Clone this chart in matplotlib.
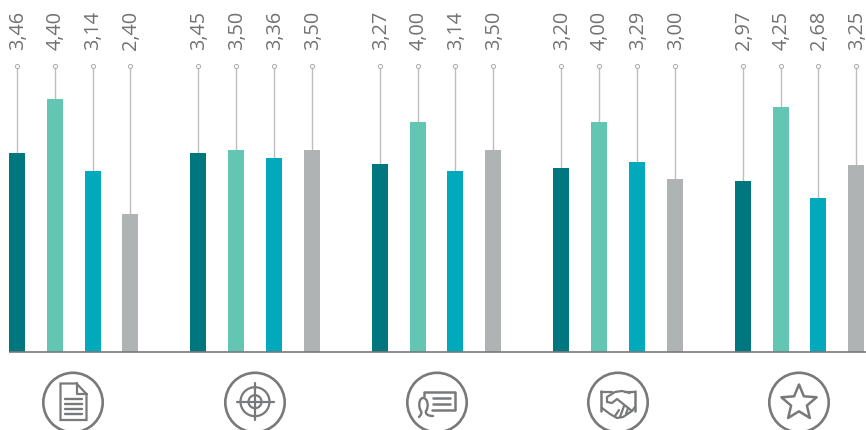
import matplotlib
matplotlib.use("Agg")
import numpy as np
import matplotlib.pyplot as plt
from matplotlib.patches import Circle, Polygon, PathPatch
from matplotlib.path import Path

plt.rcParams['font.family'] = ['Open Sans', 'DejaVu Sans']

# one list per series, one value per icon group
group1 = [3.46, 3.45, 3.27, 3.20, 2.97]
group2 = [4.40, 3.50, 4.00, 4.00, 4.25]
group3 = [3.14, 3.36, 3.14, 3.29, 2.68]
group4 = [2.40, 3.50, 3.50, 3.00, 3.25]
series = [group1, group2, group3, group4]
colors = ['#00777f', '#63c6b2', '#00a9bc', '#afb3b3']

xcenters = [[17, 198, 380, 561, 743],
            [55, 236, 418, 599, 781],
            [92.5, 274, 455, 637, 818],
            [130, 312, 493, 675, 856]]
BASE = 353
SCALE = 57.6
GREY = '#77797b'
TXT = '#6f7173'
LW = 1.6


def line(ax, xs, ys, lw=LW):
    ax.plot(xs, ys, color=GREY, lw=lw, solid_capstyle='round', solid_joinstyle='round')


def curve(ax, verts, codes, lw=LW):
    ax.add_patch(PathPatch(Path(verts, codes), fc='none', ec=GREY, lw=lw, joinstyle='round', capstyle='round'))


def doc_icon(ax):
    ax.add_patch(Polygon([(60.5, 384.5), (76.5, 384.5), (86.5, 395), (86.5, 421), (60.5, 421)],
                         closed=True, fc='none', ec=GREY, lw=LW))
    line(ax, [76.5, 76.5, 86.5], [384.5, 395, 395])
    for y in [400, 405, 410, 415.5]:
        line(ax, [65, 82], [y, y], lw=1.7)


def target_icon(ax):
    cx, cy = 255, 402.7
    for r in [14.5, 6.5]:
        ax.add_patch(Circle((cx, cy), r, fc='none', ec=GREY, lw=LW))
    line(ax, [236.5, 273.5], [cy, cy])
    line(ax, [cx, cx], [384.5, 421])


def speech_icon(ax):
    line(ax, [423.5, 423.5, 455, 455, 432], [397, 392.7, 392.7, 411, 411], lw=1.8)
    line(ax, [433, 450], [399, 399], lw=1.8)
    line(ax, [433, 450], [405, 405], lw=1.8)
    M, C = Path.MOVETO, Path.CURVE4
    # head and shoulders of the speaker
    curve(ax,
          [(419, 418), (421, 416), (422, 414), (421, 412),
           (418, 408), (419, 399), (423, 399),
           (428, 399), (429, 408), (426, 412),
           (425, 415), (428, 417), (433, 417)],
          [M, C, C, C, C, C, C, C, C, C, C, C, C], lw=1.7)


def shake_icon(ax):
    line(ax, [601, 601], [392, 412], lw=1.8)
    line(ax, [635, 635], [392, 412], lw=1.8)
    line(ax, [601, 612], [393, 393])
    line(ax, [625, 635], [393, 393])
    # top of the clasp and the thumb
    line(ax, [630, 622, 615, 607, 607, 612, 617, 632], [394, 392, 393, 398, 403, 404, 400, 412])
    # lower hand with the fingers
    line(ax, [602, 610, 617, 623, 632, 635], [409, 415, 419, 418, 412, 408])
    line(ax, [615, 619], [417, 411])
    line(ax, [620, 624], [418, 407])
    line(ax, [626, 628], [415, 409])


def star_icon(ax):
    cx, cy, ro, ri = 799, 404, 18.5, 8.3
    ang = np.deg2rad(-90 + 36 * np.arange(10))
    rad = np.where(np.arange(10) % 2 == 0, ro, ri)
    ax.add_patch(Polygon(np.c_[cx + rad * np.cos(ang), cy + rad * np.sin(ang)], closed=True,
                         fc='none', ec=GREY, lw=LW + 0.2, joinstyle='round'))


def main():
    fig = plt.figure(figsize=(8.66, 4.31), dpi=100)

    # pixel layer for stems, labels and icons
    pix = fig.add_axes([0, 0, 1, 1], zorder=1)
    pix.set_xlim(0, 866)
    pix.set_ylim(431, 0)
    pix.axis('off')

    # value layer for the bars
    ax = fig.add_axes([0, 0, 1, 1], zorder=2)
    ax.patch.set_alpha(0)
    ax.set_xlim(0, 866)
    ax.set_ylim(-(431 - BASE) / SCALE, BASE / SCALE)
    ax.axis('off')

    for vals, xs, col in zip(series, xcenters, colors):
        ax.bar(xs, vals, width=16, color=col, linewidth=0)
        pix.vlines(xs, 67, BASE, color='#bdbfbf', lw=1.0)
        pix.plot(xs, [66.7] * len(xs), 'o', ms=3, mfc='white', mec='#a9abab', mew=0.7)
        for x, v in zip(xs, vals):
            pix.text(x + 1, 50, f'{v:.2f}'.replace('.', ','), rotation=90, ha='center', va='bottom',
                     fontsize=14.3, color=TXT)

    ax.plot([9, 866], [0, 0], color='#77797b', lw=1.2, solid_capstyle='butt')

    for cx in [73, 255, 437, 618, 799]:
        pix.add_patch(Circle((cx, 403.5), 29.7, fc='none', ec=GREY, lw=1.9))
    doc_icon(pix)
    target_icon(pix)
    speech_icon(pix)
    shake_icon(pix)
    star_icon(pix)

    fig.savefig('out.png', dpi=100)


if __name__ == "__main__":
    main()
